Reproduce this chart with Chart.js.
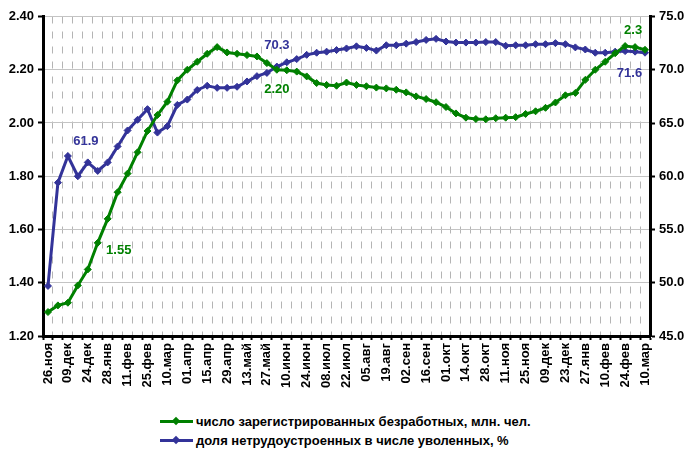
<!DOCTYPE html>
<html>
<head>
<meta charset="utf-8">
<script src="https://cdn.jsdelivr.net/npm/chart.js@4.4.1/dist/chart.umd.min.js"></script>
<style>
  html, body { margin: 0; padding: 0; background: #ffffff; }
  #wrap { position: relative; width: 689px; height: 452px; overflow: hidden; }
  #box { position: absolute; left: 0; top: 0; width: 689px; height: 400px; }
  #legend { position: absolute; left: 160px; top: 412px; font: bold 13px "Liberation Sans", Arial, sans-serif; color: #000; }
  .row { display: flex; align-items: center; height: 19px; }
  .mk { position: relative; width: 33px; height: 10px; margin-right: 3px; }
  .mk .ln { position: absolute; left: 0; top: 3.5px; width: 33px; height: 3px; }
  .mk .dm { position: absolute; left: 13px; top: 1.5px; width: 6px; height: 6px; transform: rotate(45deg); }
</style>
</head>
<body>
<div id="wrap">
  <div id="box"><canvas id="c" width="689" height="400"></canvas></div>
  <div id="legend"></div>
</div>
<script>
// ---- data ----
const tickLabels = ['26.ноя','09.дек','24.дек','28.янв','11.фев','25.фев','10.мар','01.апр','15.апр','29.апр',
  '13.май','27.май','10.июн','24.июн','08.июл','22.июл','05.авг','19.авг','02.сен','16.сен',
  '01.окт','14.окт','28.окт','11.ноя','25.ноя','09.дек','23.дек','27.янв','10.фев','24.фев','10.мар'];

const unemployed = [1.29,1.315,1.325,1.39,1.45,1.55,1.64,1.74,1.81,1.89,
  1.97,2.03,2.08,2.16,2.20,2.23,2.26,2.285,2.265,2.26,
  2.255,2.25,2.225,2.20,2.198,2.193,2.175,2.15,2.143,2.14,
  2.152,2.143,2.138,2.133,2.13,2.125,2.115,2.10,2.09,2.078,
  2.06,2.036,2.02,2.015,2.014,2.018,2.02,2.022,2.034,2.044,
  2.057,2.077,2.104,2.113,2.162,2.20,2.23,2.262,2.289,2.285,2.275];

const notReemployed = [49.7,59.4,61.9,60.0,61.3,60.5,61.3,62.8,64.3,65.3,
  66.3,64.1,64.7,66.7,67.2,68.1,68.5,68.3,68.3,68.4,
  68.9,69.4,69.7,70.3,70.7,71.0,71.4,71.6,71.7,71.85,
  72.0,72.2,72.05,71.8,72.3,72.3,72.45,72.6,72.8,72.9,
  72.65,72.55,72.55,72.55,72.6,72.6,72.25,72.3,72.3,72.4,
  72.4,72.5,72.4,72.1,71.9,71.6,71.6,71.7,71.75,71.7,71.6];

const seriesNames = ['число зарегистрированных безработных, млн. чел.', 'доля нетрудоустроенных в числе уволенных, %'];

// categories: labelled dates on every second weekly point
const categories = [];
tickLabels.forEach((t, i) => { categories.push(t); if (i < tickLabels.length - 1) categories.push(''); });

// ---- styles ----
const GREEN = '#008000';
const BLUE = '#333399';
const FONT = '"Liberation Sans", Arial, sans-serif';

// value labels: dataset, point index, decimals, offset from point
const valueLabels = [
  { ds: 1, i: 2,  dec: 1, dx: 18,  dy: -15 },
  { ds: 0, i: 5,  dec: 2, dx: 21,  dy: 7.5 },
  { ds: 1, i: 23, dec: 1, dx: 0,   dy: -21 },
  { ds: 0, i: 23, dec: 2, dx: 0,   dy: 20 },
  { ds: 0, i: 59, dec: 1, dx: -2,  dy: -17 },
  { ds: 1, i: 60, dec: 1, dx: -15.5, dy: 21 }
];

const labelPlugin = {
  id: 'valueLabels',
  afterDatasetsDraw(chart) {
    const ctx = chart.ctx;
    ctx.save();
    ctx.font = 'bold 13px ' + FONT;
    ctx.textAlign = 'center';
    ctx.textBaseline = 'middle';
    valueLabels.forEach(l => {
      const ds = chart.data.datasets[l.ds];
      const pt = chart.getDatasetMeta(l.ds).data[l.i];
      ctx.fillStyle = ds.borderColor;
      ctx.fillText(ds.data[l.i].toFixed(l.dec), pt.x + l.dx, pt.y + l.dy);
    });
    ctx.restore();
  }
};

new Chart(document.getElementById('c'), {
  type: 'line',
  data: {
    labels: categories,
    datasets: [
      { label: seriesNames[0], data: unemployed, yAxisID: 'y', borderColor: GREEN, backgroundColor: GREEN,
        borderWidth: 3, pointStyle: 'rectRot', pointRadius: 3.5, pointBorderWidth: 1, tension: 0 },
      { label: seriesNames[1], data: notReemployed, yAxisID: 'y1', borderColor: BLUE, backgroundColor: BLUE,
        borderWidth: 3, pointStyle: 'rectRot', pointRadius: 3.5, pointBorderWidth: 1, tension: 0 }
    ]
  },
  options: {
    responsive: false,
    animation: false,
    devicePixelRatio: 1,
    layout: { padding: { top: 16.5, left: 0, right: 0, bottom: 0 } },
    plugins: { legend: { display: false }, tooltip: { enabled: false } },
    scales: {
      x: {
        type: 'category',
        offset: true,
        grid: { offset: true, color: '#b4b4b4', lineWidth: 1, drawTicks: true, tickLength: 4, tickColor: '#000', tickWidth: 2 },
        border: { display: true, color: '#000', width: 3, dash: [7, 8] },
        ticks: { autoSkip: false, maxRotation: 90, minRotation: 90, padding: 3, color: '#000',
                 font: { family: FONT, size: 13, weight: 'bold' } },
        afterFit(s) { s.height = 64; }
      },
      y: {
        position: 'left', min: 1.2, max: 2.4,
        ticks: { stepSize: 0.2, color: '#000', padding: 4, font: { family: FONT, size: 13, weight: 'bold' },
                 callback: v => Number(v).toFixed(2) },
        grid: { color: '#c4c4c4', lineWidth: 1, tickLength: 5, tickColor: '#000', tickWidth: 2 },
        border: { display: true, color: '#000', width: 3 },
        afterFit(s) { s.width = 43; }
      },
      y1: {
        position: 'right', min: 45, max: 75,
        ticks: { stepSize: 5, color: '#000', padding: 4, font: { family: FONT, size: 13, weight: 'bold' },
                 callback: v => Number(v).toFixed(1) },
        grid: { drawOnChartArea: false, tickLength: 5, tickColor: '#000', tickWidth: 2 },
        border: { display: true, color: '#000', width: 3 },
        afterFit(s) { s.width = 39; }
      }
    }
  },
  plugins: [labelPlugin]
});

// legend (HTML text)
const lg = document.getElementById('legend');
[[seriesNames[0], GREEN], [seriesNames[1], BLUE]].forEach(([name, col]) => {
  const row = document.createElement('div');
  row.className = 'row';
  row.innerHTML = '<div class="mk"><div class="ln" style="background:' + col + '"></div><div class="dm" style="background:' + col + '"></div></div><span></span>';
  row.querySelector('span').textContent = name;
  lg.appendChild(row);
});
</script>
</body>
</html>
